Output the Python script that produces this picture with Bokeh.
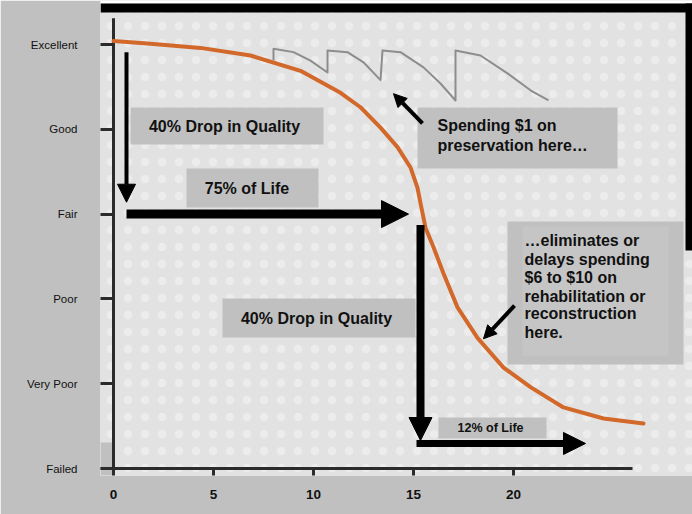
from bokeh.plotting import figure
from bokeh.models import Range1d, FixedTicker, BoxAnnotation, Arrow, NormalHead
from bokeh.core.properties import value
from bokeh.embed import file_html
from bokeh.resources import INLINE

# ---------------- data ----------------
condition_levels = [0, 1, 2, 3, 4, 5]
condition_labels = ["Failed", "Very Poor", "Poor", "Fair", "Good", "Excellent"]
year_ticks = [0, 5, 10, 15, 20]

# typical deterioration curve (age in years -> condition level)
age = [0, 1.85, 4.35, 6.85, 9.35, 11.35, 12.35, 13.35, 14.2, 14.85, 15.2, 15.35,
       15.6, 16.0, 16.5, 17.2, 18.2, 19.5, 20.85, 22.5, 24.5, 26.5]
condition = [5.04, 5.01, 4.96, 4.87, 4.69, 4.43, 4.26, 4.02, 3.79, 3.55, 3.31, 3.13,
             2.84, 2.61, 2.30, 1.90, 1.54, 1.19, 0.96, 0.72, 0.59, 0.53]

# curve with repeated preservation treatments (sawtooth)
pres_age = [8.0, 8.0, 9.0, 9.85, 10.7, 10.7, 11.7, 12.5, 13.35, 13.45, 14.35, 15.5,
            16.35, 17.1, 17.1, 18.35, 19.7, 20.85, 21.75]
pres_condition = [4.81, 4.95, 4.91, 4.81, 4.67, 4.93, 4.91, 4.79, 4.58, 4.93, 4.91, 4.73,
                  4.54, 4.34, 4.93, 4.87, 4.66, 4.46, 4.34]

# axis extents (years / levels)
x_axis_span = [-0.65, 25.95]
y_axis_span = [-0.06, 5.31]

# arrows: start (age, level) -> end (age, level)
arrow_x0 = [0.65, 0.65, 15.35, 15.15, 15.45, 20.05]
arrow_y0 = [4.91, 3.0, 2.87, 0.295, 4.07, 1.92]
arrow_x1 = [0.65, 14.75, 15.35, 23.6, 14.0, 18.5]
arrow_y1 = [3.14, 3.0, 0.33, 0.295, 4.42, 1.53]

# callout boxes (age / level extents)
box_left = [0.85, 3.65, 15.2, 19.7, 5.45, 16.25]
box_right = [10.5, 10.25, 25.2, 28.5, 15.1, 21.65]
box_top = [4.257, 3.538, 4.257, 2.913, 2.005, 0.601]
box_bottom = [3.821, 3.078, 3.538, 1.226, 1.545, 0.354]

# centred callout texts
center_text = ["40% Drop in Quality", "75% of Life", "40% Drop in Quality"]
center_x = [5.55, 6.675, 10.15]
center_y = [4.033, 3.302, 1.769]

small_text = ["12% of Life"]
small_x = [18.85]
small_y = [0.483]

# left aligned multi-line callouts
note1_lines = ["Spending $1 on", "preservation here\u2026"]
note1_x = 16.2
note1_y = [4.045, 3.809]
note2_lines = ["\u2026eliminates or", "delays spending", "$6 to $10 on",
               "rehabilitation or", "reconstruction", "here."]
note2_x = 20.55
note2_y = [2.689, 2.465, 2.252, 2.034, 1.822, 1.604]

# ---------------- styling ----------------
LIGHT = "#e2e2e2"
GRAY = "#c0c0c0"
INK = "#111111"
AXIS = "#2b2b2b"
ORANGE = "#d2692a"
SAW = "#8d8d8d"
FONT = "Liberation Sans"

W, H = 692, 514
PX_X, PX_Y = 20.0, 84.8          # pixels per unit
X0_PX, Y0_PX = 113, 468          # pixel position of (0, 0)
BORDER_L, BORDER_B = 100, 39     # gray side panels

x_start = -(X0_PX - BORDER_L) / PX_X
x_end = (W - X0_PX) / PX_X
y_start = -(H - BORDER_B - Y0_PX) / PX_Y
y_end = Y0_PX / PX_Y

p = figure(width=W, height=H, output_backend="svg", toolbar_location=None, title=None,
           x_range=Range1d(x_start, x_end), y_range=Range1d(y_start, y_end),
           min_border_left=BORDER_L, min_border_right=0, min_border_top=0,
           min_border_bottom=BORDER_B,
           background_fill_color=LIGHT, border_fill_color=GRAY, outline_line_color=None)
p.xgrid.visible = False
p.ygrid.visible = False

def dx(px):
    return px / PX_X

def dy(px):
    return px / PX_Y

solid = dict(fill_alpha=1.0, line_color=None, level="underlay")
# dotted slide texture
p.add_layout(BoxAnnotation(fill_color=LIGHT, hatch_pattern="dot", hatch_color="white",
                           hatch_alpha=0.35, hatch_scale=17, **solid))
# gray corner left of the y axis, below "Very Poor"
p.add_layout(BoxAnnotation(left=x_start, right=0, bottom=y_start, top=dy(26),
                           fill_color=GRAY, **solid))
# slide frame: white edge + black border at top, black border at right
p.add_layout(BoxAnnotation(bottom=y_end - dy(3), fill_color="white", **solid))
p.add_layout(BoxAnnotation(bottom=y_end - dy(12), top=y_end - dy(3), fill_color="black",
                           **solid))
p.add_layout(BoxAnnotation(left=x_end - dx(7), bottom=y_end - dy(250), top=y_end - dy(3),
                           fill_color="black", **solid))

# axis lines (extend slightly past each other as on the slide)
p.line(x_axis_span, [0, 0], line_color=AXIS, line_width=3)
p.line([0, 0], y_axis_span, line_color=AXIS, line_width=3)

# axes: ticks + labels
p.xaxis.ticker = FixedTicker(ticks=year_ticks)
p.xaxis.axis_line_color = None
p.xaxis.major_tick_in = 8
p.xaxis.major_tick_out = 0
p.xaxis.major_tick_line_width = 3
p.xaxis.major_tick_line_color = AXIS
p.xaxis.minor_tick_line_color = None
p.xaxis.major_label_standoff = 14
p.xaxis.major_label_text_font = FONT
p.xaxis.major_label_text_font_style = "bold"
p.xaxis.major_label_text_font_size = "13.5px"
p.xaxis.major_label_text_color = INK

p.yaxis.ticker = FixedTicker(ticks=condition_levels)
p.yaxis.major_label_overrides = {lv: lb for lv, lb in zip(condition_levels, condition_labels)}
p.yaxis.axis_line_color = None
p.yaxis.major_tick_in = 12
p.yaxis.major_tick_out = 0
p.yaxis.major_tick_line_width = 3
p.yaxis.major_tick_line_color = AXIS
p.yaxis.minor_tick_line_color = None
p.yaxis.major_label_standoff = 23
p.yaxis.major_label_text_font = FONT
p.yaxis.major_label_text_font_size = "11.5px"
p.yaxis.major_label_text_color = INK

# curves
p.line(pres_age, pres_condition, line_color=SAW, line_width=2, line_join="round")
p.line(age, condition, line_color=ORANGE, line_width=4, line_join="round", line_cap="round")

# callout boxes
p.quad(left=box_left, right=box_right, top=box_top, bottom=box_bottom,
       fill_color=GRAY, line_color=None)
# slightly lighter inner panel of the second note
p.quad(left=[20.45], right=[27.75], top=[2.854], bottom=[1.333],
       fill_color="#c5c5c5", line_color=None)

# texts
bold = dict(text_font=value(FONT), text_font_style="bold", text_color=INK)
p.text(x=center_x, y=center_y, text=center_text, text_align="center",
       text_baseline="middle", text_font_size=value("16px"), **bold)
p.text(x=small_x, y=small_y, text=small_text, text_align="center",
       text_baseline="middle", text_font_size=value("12.5px"), **bold)
p.text(x=[note1_x] * len(note1_lines), y=note1_y, text=note1_lines, text_align="left",
       text_baseline="middle", text_font_size=value("16px"), **bold)
p.text(x=[note2_x] * len(note2_lines), y=note2_y, text=note2_lines, text_align="left",
       text_baseline="middle", text_font_size=value("16px"), **bold)

# arrows
arrow_widths = [4, 9, 8, 7, 4, 4]
arrow_heads = [18, 27, 23, 22, 13, 13]
for x0, y0, x1, y1, w, hs in zip(arrow_x0, arrow_y0, arrow_x1, arrow_y1, arrow_widths, arrow_heads):
    p.add_layout(Arrow(x_start=x0, y_start=y0, x_end=x1, y_end=y1, line_width=w,
                       line_color="black",
                       end=NormalHead(size=hs, fill_color="black", line_color="black", line_width=1)))

open("out.html", "w").write(file_html(p, INLINE))
